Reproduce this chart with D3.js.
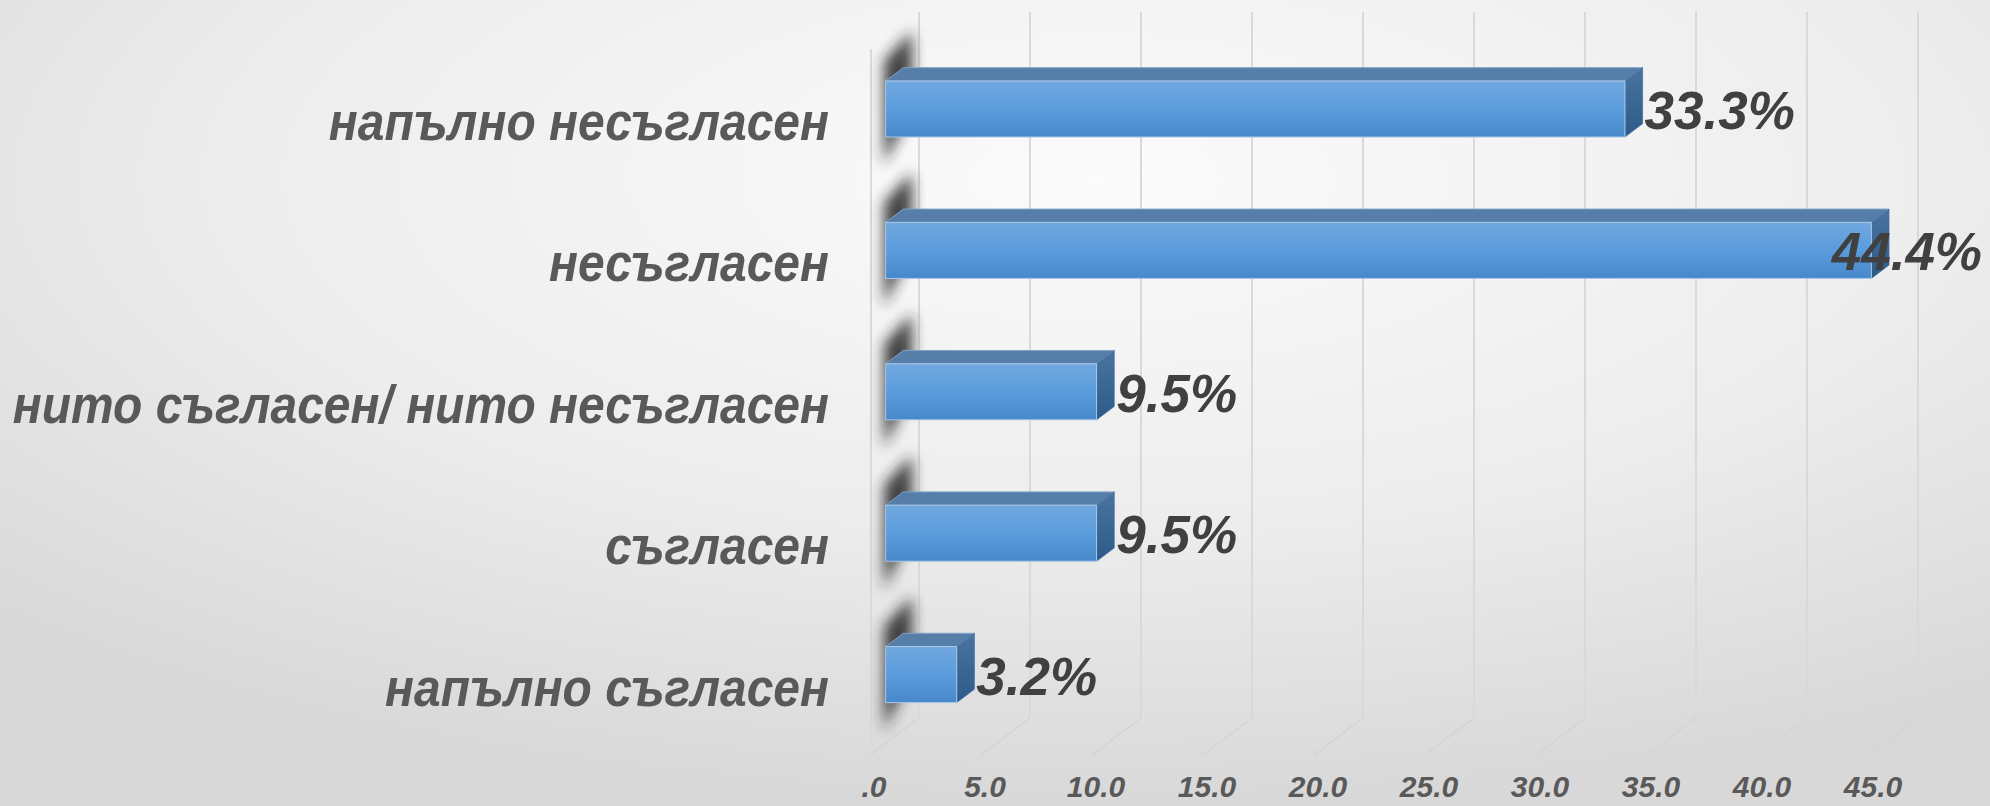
<!DOCTYPE html>
<html><head><meta charset="utf-8">
<script src="https://cdn.jsdelivr.net/npm/d3@7"></script>
<style>html,body{margin:0;padding:0;overflow:hidden;background:#ececec}</style>
</head><body>
<svg id="chart" width="1990" height="806"></svg>
<script>
const categories = ["напълно съгласен","съгласен","нито съгласен/ нито несъгласен","несъгласен","напълно несъгласен"];
const values = [3.2, 9.5, 9.5, 44.4, 33.3];
const tickValues = [0,5,10,15,20,25,30,35,40,45];
const tickLabels = [".0","5.0","10.0","15.0","20.0","25.0","30.0","35.0","40.0","45.0"];

const W = 1990, H = 806;
const svg = d3.select("#chart");
const defs = svg.append("defs");

const bg = defs.append("radialGradient").attr("id","bg").attr("cx","0.55").attr("cy","0.22").attr("r","0.78");
bg.append("stop").attr("offset","0").attr("stop-color","#fbfbfb");
bg.append("stop").attr("offset","0.55").attr("stop-color","#ededed");
bg.append("stop").attr("offset","1").attr("stop-color","#d9d8d9");
svg.append("rect").attr("width",W).attr("height",H).attr("fill","url(#bg)");

const front = defs.append("linearGradient").attr("id","front").attr("x1",0).attr("y1",0).attr("x2",0).attr("y2",1);
front.append("stop").attr("offset","0").attr("stop-color","#71a8e0");
front.append("stop").attr("offset","0.5").attr("stop-color","#5a9cdc");
front.append("stop").attr("offset","1").attr("stop-color","#4787cb");
const side = defs.append("linearGradient").attr("id","side").attr("x1",0).attr("y1",0).attr("x2",0).attr("y2",1);
side.append("stop").attr("offset","0").attr("stop-color","#4a74a0");
side.append("stop").attr("offset","1").attr("stop-color","#2c5a88");
const blur = defs.append("filter").attr("id","blur").attr("x","-1").attr("y","-1").attr("width","3").attr("height","3");
blur.append("feGaussianBlur").attr("stdDeviation",7);

// scales
const x = d3.scaleLinear().domain([0,45]).range([870,1869]);
const y = d3.scalePoint().domain(categories.slice().reverse()).range([109, 674.6]);
const DX = 49, DY = -37;          // full depth offset
const f0 = 0.32, f1 = 0.68;        // bar depth fractions
const barH = 56;
const backTop = 12, backBottom = 718;

// left wall front edge
svg.append("line").attr("x1",871).attr("x2",871).attr("y1",backTop-DY).attr("y2",backBottom-DY)
  .attr("stroke","#dadada").attr("stroke-width",2);

// back gridlines
svg.append("g").selectAll("line").data(tickValues).join("line")
  .attr("x1",d=>x(d)+DX).attr("x2",d=>x(d)+DX).attr("y1",backTop).attr("y2",backBottom)
  .attr("stroke","#d9d9d9").attr("stroke-width",2);
// floor diagonals
svg.append("g").selectAll("line").data(tickValues).join("line")
  .attr("x1",d=>x(d)+DX).attr("x2",d=>x(d)).attr("y1",backBottom).attr("y2",backBottom-DY)
  .attr("stroke","#d4d4d4").attr("stroke-width",1.5);

// tick labels
svg.append("g").selectAll("text").data(tickValues).join("text")
  .attr("x",d=>x(d)+4).attr("y",797).attr("text-anchor","middle")
  .attr("font-family","'Liberation Sans', Arial, sans-serif").attr("font-weight","bold").attr("font-style","italic")
  .attr("font-size",30).attr("fill","#595959")
  .text((d,i)=>tickLabels[i]);

const data = categories.map((c,i)=>({c, v: values[i]}));

// shadows
svg.append("g").selectAll("path").data(data).join("path")
  .attr("d", d=>{ const t = y(d.c)-barH/2, b = y(d.c)+barH/2;
    return `M884,${t-20} L912,${t-50} L912,${b-30} L884,${b+28} Z`; })
  .attr("fill","#222").attr("opacity",0.85).attr("filter","url(#blur)");

const bars = svg.append("g").selectAll("g").data(data).join("g");
const ox = DX*f0, oy = DY*f0, dx = DX*(f1-f0), dy = DY*(f1-f0);
// top face
bars.append("path").attr("d", d=>{ const x0=x(0)+ox, x1=x(d.v)+ox, t=y(d.c)-barH/2;
    return `M${x0},${t} L${x0+dx},${t+dy} L${x1+dx},${t+dy} L${x1},${t} Z`; })
  .attr("fill","#577ea8").attr("stroke","#7fa3c8").attr("stroke-width",1);
// side face
bars.append("path").attr("d", d=>{ const x1=x(d.v)+ox, t=y(d.c)-barH/2;
    return `M${x1},${t} L${x1+dx},${t+dy} L${x1+dx},${t+dy+barH} L${x1},${t+barH} Z`; })
  .attr("fill","url(#side)").attr("stroke","#4a70a0").attr("stroke-width",0.8);
// front face
bars.append("rect").attr("x",x(0)+ox).attr("y",d=>y(d.c)-barH/2)
  .attr("width",d=>x(d.v)-x(0)).attr("height",barH)
  .attr("fill","url(#front)").attr("stroke","#a9c8e6").attr("stroke-width",1);

// data labels
const lab = svg.append("g").selectAll("text").data(data).join("text")
  .attr("font-family","'Liberation Sans', Arial, sans-serif").attr("font-weight","bold").attr("font-style","italic")
  .attr("font-size",53).attr("fill","#404040")
  .attr("y",d=>y(d.c)+20)
  .text(d=>d.v.toFixed(1)+"%");
lab.each(function(d){
  const w = this.getComputedTextLength();
  let xs = x(d.v)+ox+dx+2;
  if (xs + w > W - 8) xs = W - 8 - w;
  d3.select(this).attr("x", xs);
});

// category labels (slightly condensed like the original)
svg.append("g").selectAll("text").data(data).join("text")
  .attr("transform",d=>`translate(829,${y(d.c)+31}) scale(0.905,1)`)
  .attr("text-anchor","end")
  .attr("font-family","'Liberation Sans', Arial, sans-serif").attr("font-weight","bold").attr("font-style","italic")
  .attr("font-size",53).attr("fill","#595959")
  .text(d=>d.c);
</script>
</body></html>
